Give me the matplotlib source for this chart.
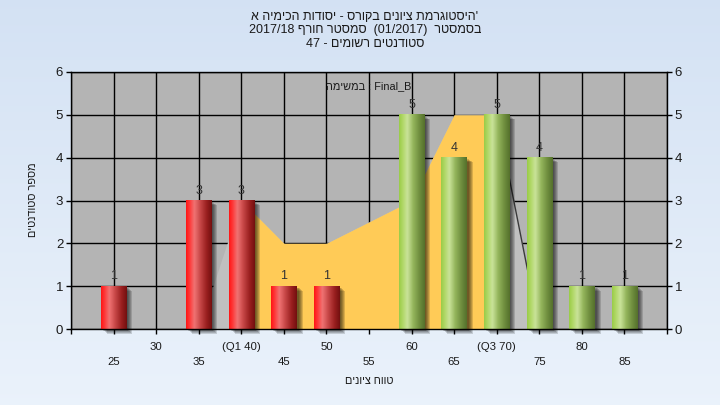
import numpy as np
import matplotlib
matplotlib.use("Agg")
import matplotlib.pyplot as plt
from matplotlib.colors import LinearSegmentedColormap
from matplotlib.patches import Rectangle
from matplotlib.transforms import ScaledTranslation

# ---------------- data ----------------
categories = [25, 30, 35, 40, 45, 50, 55, 60, 65, 70, 75, 80, 85]
tick_labels = ['25', '30', '35', '(Q1 40)', '45', '50', '55', '60', '65',
               '(Q3 70)', '75', '80', '85']
counts = [1, 0, 3, 3, 1, 1, 0, 5, 4, 5, 4, 1, 1]
pass_threshold = 55
iqr_categories = [40, 45, 50, 55, 60, 65, 70]
iqr_values = [3, 2, 2, 2.5, 3, 5, 5]
outer_categories = [35, 40, 45, 50, 55, 60, 65, 70, 75]
outer_values = [0, 3, 2, 2, 2.5, 3, 5, 5, 0]

title_lines = ["היסטוגרמת ציונים בקורס - יסודות הכימיה א'",
               "בסמסטר  (01/2017)  סמסטר חורף 2017/18",
               "סטודנטים רשומים - 47"]
series_label = "במשימה : Final_B"
x_title = "טווח ציונים"
y_title = "מספר סטודנטים"

MIRROR = {"(": ")", ")": "(", "[": "]", "]": "["}


def visual(s):
    """Very small bidi: logical text in an LTR paragraph -> visual order."""
    n = len(s)
    types = []
    last = 'L'
    for ch in s:
        if '\u0590' <= ch <= '\u05FF':
            t = 'R'; last = 'R'
        elif ch.isascii() and (ch.isalpha() or ch == '_'):
            t = 'L'; last = 'L'
        elif ch.isdigit():
            t = 'RN' if last == 'R' else 'L'
        else:
            t = 'N'
        types.append(t)
    for i in range(1, n - 1):
        if types[i] == 'N' and s[i] in '/.,:' and s[i - 1].isdigit() and s[i + 1].isdigit():
            types[i] = types[i - 1]
    res = list(types)
    i = 0
    while i < n:
        if res[i] == 'N':
            j = i
            while j < n and res[j] == 'N':
                j += 1
            left = 'L' if i == 0 else ('R' if res[i - 1] in ('R', 'RN') else 'L')
            right = 'L' if j == n else ('R' if res[j] in ('R', 'RN') else 'L')
            d = left if left == right else 'L'
            for k in range(i, j):
                res[k] = d
            i = j
        else:
            i += 1
    out = []
    i = 0
    while i < n:
        if res[i] == 'L':
            out.append(s[i]); i += 1
        else:
            j = i
            while j < n and res[j] in ('R', 'RN'):
                j += 1
            toks = []
            k = i
            while k < j:
                if res[k] == 'RN':
                    m = k
                    while m < j and res[m] == 'RN':
                        m += 1
                    toks.append(s[k:m]); k = m
                else:
                    toks.append(MIRROR.get(s[k], s[k])); k += 1
            out.append(''.join(toks[::-1]))
            i = j
    return ''.join(out)


plt.rcParams['font.family'] = ['Liberation Sans', 'DejaVu Sans']
TXT = '#1a1a1a'

fig = plt.figure(figsize=(7.2, 4.05), dpi=100)

# background gradient
bgax = fig.add_axes([0, 0, 1, 1], zorder=-10)
top = np.array([0.83, 0.885, 0.955])
bot = np.array([0.92, 0.95, 0.985])
t = np.linspace(0, 1, 256)[:, None]
grad = top[None, None, :] * (1 - t[..., None]) + bot[None, None, :] * t[..., None]
grad = np.repeat(grad, 2, axis=1)
bgax.imshow(grad, aspect='auto', extent=(0, 1, 0, 1))
bgax.axis('off')

ax = fig.add_axes([71 / 720, 1 - 329 / 405, (667 - 71) / 720, (329 - 72) / 405])
ax.set_facecolor('#B4B4B4')

# areas
ax.fill_between(outer_categories, outer_values, color='#C0C0C0', lw=0, zorder=1)
ax.fill_between(iqr_categories, iqr_values, color='#FFCB57', lw=0, zorder=1.1)
ax.plot(outer_categories[-2:], outer_values[-2:], color='#3a3a3a', lw=1, zorder=1.2)

# bars
red_cmap = LinearSegmentedColormap.from_list('r', [
    (0.0, (1.0, 0.08, 0.08)), (0.12, (1.0, 0.2, 0.2)), (0.32, (0.94, 0.45, 0.45)),
    (0.55, (0.78, 0.28, 0.28)), (0.8, (0.6, 0.12, 0.12)), (1.0, (0.45, 0.06, 0.06))])
green_cmap = LinearSegmentedColormap.from_list('g', [
    (0.0, (0.6, 0.8, 0.28)), (0.12, (0.68, 0.84, 0.38)), (0.32, (0.79, 0.89, 0.6)),
    (0.55, (0.58, 0.71, 0.36)), (0.8, (0.43, 0.55, 0.24)), (1.0, (0.33, 0.44, 0.17))])
bw = 3.0
g = np.linspace(0, 1, 128).reshape(1, -1)
for c, h in zip(categories, counts):
    if h <= 0:
        continue
    for d in (2, 3, 4, 5, 6):
        off = ScaledTranslation(d * 0.72 / 72, -d * 0.55 / 72, fig.dpi_scale_trans)
        ax.add_patch(Rectangle((c - bw / 2, 0), bw, h, transform=ax.transData + off,
                               fc='black', alpha=0.15, lw=0, zorder=1.5, clip_on=False))
    cmap = red_cmap if c < pass_threshold else green_cmap
    ax.imshow(g, extent=(c - bw / 2, c + bw / 2, 0, h), cmap=cmap, aspect='auto',
              interpolation='bilinear', zorder=2)
    ax.annotate(str(h), (c, h), xytext=(0, 5), textcoords='offset points',
                ha='center', va='baseline', fontsize=9, color='#333333', zorder=3)

ax.set_xlim(20, 90)
ax.set_ylim(0, 6)

# grid and ticks
ax.set_axisbelow(True)
ax.grid(True, color='black', lw=1)
xt = [20] + categories + [90]
ax.set_xticks(xt, [''] + tick_labels + [''])
ax.set_yticks(range(7))
ax.tick_params(axis='x', direction='out', length=3.6, width=1, labelsize=8.2,
               labelcolor=TXT)
ax.tick_params(axis='y', direction='out', length=3.6, width=1, labelsize=9.5,
               labelcolor=TXT, left=True, right=True, labelleft=True, labelright=True,
               pad=2)
for i, tk in enumerate(ax.xaxis.get_major_ticks()):
    idx = i - 1
    if 0 <= idx < len(categories):
        tk.set_pad(5.5 if idx % 2 == 1 else 16.5)
for s in ax.spines.values():
    s.set_color('black')
    s.set_linewidth(1)

ax.text(0.5, 0.945, visual(series_label), transform=ax.transAxes, ha='center',
        va='center', fontsize=7.8, color=TXT, zorder=4)

# titles
ys = [1 - 17 / 405, 1 - 30.5 / 405, 1 - 44 / 405]
for line, y in zip(title_lines, ys):
    fig.text(0.507, y, visual(line), ha='center', va='center', fontsize=9, color=TXT)
fig.text(369 / 720, 1 - 381 / 405, visual(x_title), ha='center', va='center',
         fontsize=7.8, color=TXT)
fig.text(33 / 720, 1 - 200 / 405, visual(y_title), ha='center', va='center',
         rotation=90, fontsize=7.8, color=TXT)

fig.savefig('out.png', dpi=100)
